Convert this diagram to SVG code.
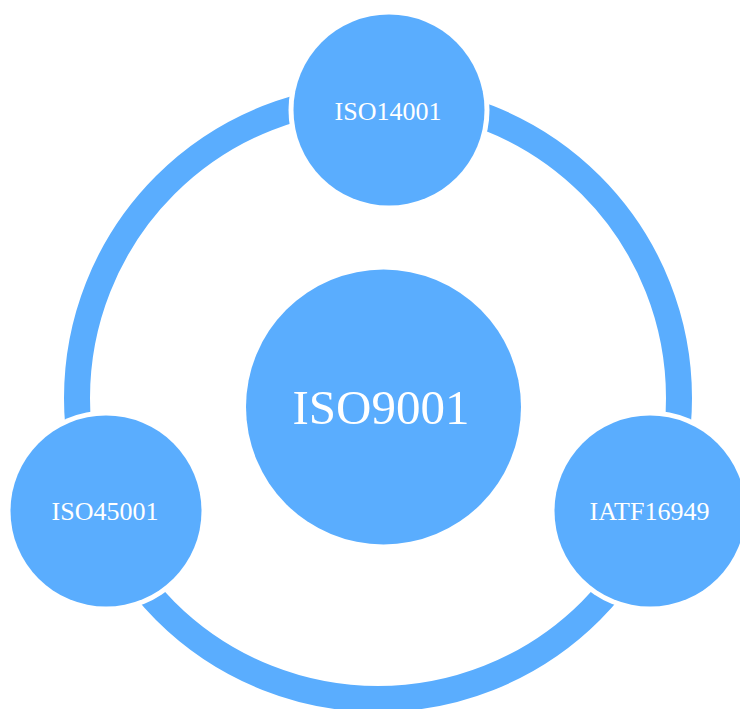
<svg xmlns="http://www.w3.org/2000/svg" width="740" height="709" viewBox="0 0 740 709">
<style>
.gap{fill:#ffffff}
.node{fill:#5aadfe}
.lbl{fill:#ffffff;font-family:"Liberation Serif","Times New Roman",serif;text-anchor:middle}
.s{font-size:26px}
</style>
<rect width="740" height="709" fill="#ffffff"/>
<g id="connectors">
<circle cx="378" cy="398" r="301" fill="none" stroke="#5aadfe" stroke-width="26"/>
</g>
<g id="iso9001">
<circle class="node" cx="383.5" cy="407" r="137.5"/>
<text class="lbl" x="381" y="424" font-size="49">ISO9001</text>
</g>
<g id="iso14001">
<circle class="gap" cx="389" cy="110" r="100.5"/>
<circle class="node" cx="389" cy="110" r="95.5"/>
<text class="lbl s" x="388" y="120">ISO14001</text>
</g>
<g id="iso45001">
<circle class="gap" cx="106" cy="511" r="100.5"/>
<circle class="node" cx="106" cy="511" r="95.5"/>
<text class="lbl s" x="105" y="520">ISO45001</text>
</g>
<g id="iatf16949">
<circle class="gap" cx="650" cy="511" r="100.5"/>
<circle class="node" cx="650" cy="511" r="95.5"/>
<text class="lbl s" x="649.5" y="520">IATF16949</text>
</g>
</svg>
